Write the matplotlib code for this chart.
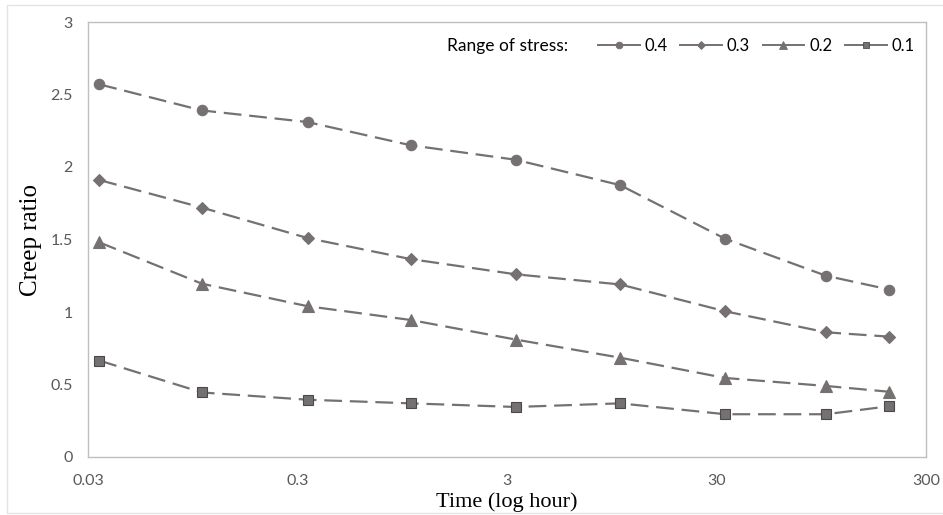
import matplotlib.pyplot as plt
from matplotlib.lines import Line2D
from matplotlib.patches import Rectangle

# time in hours
time_h = [0.034, 0.105, 0.335, 1.04, 3.3, 10.4, 33, 100, 200]

# creep ratio for each range of stress
stress_04 = [2.57, 2.39, 2.31, 2.15, 2.05, 1.875, 1.505, 1.25, 1.155]
stress_03 = [1.91, 1.72, 1.51, 1.365, 1.26, 1.19, 1.005, 0.86, 0.83]
stress_02 = [1.48, 1.195, 1.04, 0.945, 0.81, 0.685, 0.545, 0.49, 0.45]
stress_01 = [0.665, 0.445, 0.395, 0.37, 0.345, 0.37, 0.295, 0.295, 0.35]

series_labels = ['0.4', '0.3', '0.2', '0.1']
markers = ['o', 'D', '^', 's']
marker_sizes = [7.5, 5.8, 8, 7.5]

x_ticks = [0.03, 0.3, 3, 30, 300]
x_ticklabels = ['0.03', '0.3', '3', '30', '300']
y_ticks = [0, 0.5, 1, 1.5, 2, 2.5, 3]
y_ticklabels = ['0', '0.5', '1', '1.5', '2', '2.5', '3']

line_col = '#767171'
text_col = '#595959'
sans = ['Lato', 'DejaVu Sans']
serif = ['Liberation Serif', 'DejaVu Serif']

fig = plt.figure(figsize=(9.43, 5.15), dpi=100)
ax = fig.add_axes([88 / 943, 58 / 515, 838 / 943, 435 / 515])

all_series = [stress_04, stress_03, stress_02, stress_01]
handles = []
for vals, lab, mk, ms in zip(all_series, series_labels, markers, marker_sizes):
    edge = '#4a4a4a' if mk == 's' else line_col
    ax.plot(time_h, vals, color=line_col, lw=1.6, dashes=(8, 3.5),
            marker=mk, markersize=ms, markerfacecolor=line_col,
            markeredgecolor=edge, markeredgewidth=0.8, zorder=3)
    handles.append(Line2D([], [], color=line_col, lw=1.4, marker=mk,
                          markersize=ms * 0.65, markerfacecolor=line_col,
                          markeredgecolor=edge, markeredgewidth=0.6))

ax.set_xscale('log')
ax.set_xlim(0.03, 300)
ax.set_ylim(0, 3)
ax.set_xticks(x_ticks)
ax.set_xticklabels(x_ticklabels)
ax.set_yticks(y_ticks)
ax.set_yticklabels(y_ticklabels)
ax.minorticks_off()
ax.tick_params(length=0, pad=11, labelsize=11.5, labelcolor=text_col)
ax.tick_params(axis='x', pad=12)
for lbl in ax.get_xticklabels() + ax.get_yticklabels():
    lbl.set_family(sans)
for sp in ax.spines.values():
    sp.set_color('#bfbfbf')
    sp.set_linewidth(1.0)

ax.set_xlabel('Time (log hour)', family=serif, fontsize=16, color='black', labelpad=3)
ax.set_ylabel('Creep ratio', family=serif, fontsize=18, color='black', labelpad=6)

fig.text(447 / 943, 1 - 46 / 515, 'Range of stress:', family=sans, fontsize=12.5,
         color='black', va='center', ha='left')
fig.legend(handles, series_labels, loc='center left',
           bbox_to_anchor=(598 / 943, 1 - 46 / 515), ncol=4, frameon=False,
           borderpad=0, borderaxespad=0, handlelength=2.5, handletextpad=0.3,
           columnspacing=0.75, prop={'family': sans, 'size': 12})

# light outer chart border
fig.patches.append(Rectangle((7 / 943, 2 / 515), 1.0, 508 / 515,
                             transform=fig.transFigure, fill=False,
                             edgecolor='#e3e3e3', lw=1.0))

fig.savefig('out.png', dpi=100)
